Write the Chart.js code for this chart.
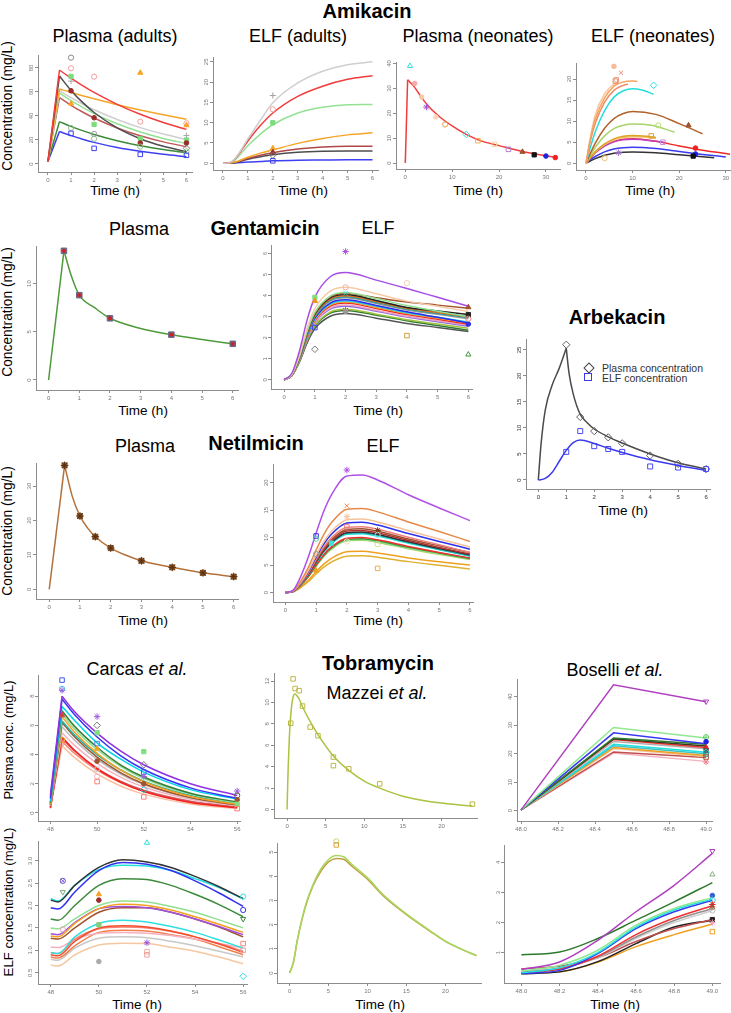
<!DOCTYPE html>
<html><head><meta charset="utf-8">
<script src="https://cdn.jsdelivr.net/npm/chart.js@4.4.1/dist/chart.umd.min.js"></script>
<style>
body{margin:0;width:731px;height:1013px;position:relative;background:#fff;font-family:"Liberation Sans",Arial,Helvetica,sans-serif;overflow:hidden}
.t{position:absolute;transform:translate(-50%,-50%);white-space:nowrap;color:#000;line-height:1.15}
.b{font-weight:bold;font-size:20px}
.h{font-size:18px}
.x{font-size:13.5px}
.v{position:absolute;transform:translate(-50%,-50%) rotate(-90deg);white-space:nowrap;color:#000;font-size:13.8px;line-height:1.15}
canvas{position:absolute}
.lg{position:absolute;font-size:10.5px;color:#333;white-space:nowrap;transform:translateY(-50%);line-height:1.15}
</style></head><body>
<div class="t b" style="left:367px;top:11px">Amikacin</div>
<div class="t h" style="left:115px;top:36px">Plasma (adults)</div>
<div class="t h" style="left:298px;top:36px">ELF (adults)</div>
<div class="t h" style="left:478px;top:36px">Plasma (neonates)</div>
<div class="t h" style="left:653px;top:36px">ELF (neonates)</div>
<div class="t b" style="left:265px;top:228px">Gentamicin</div>
<div class="t h" style="left:139px;top:229px">Plasma</div>
<div class="t h" style="left:378px;top:228px">ELF</div>
<div class="t b" style="left:617px;top:317px">Arbekacin</div>
<div class="t b" style="left:256px;top:443px">Netilmicin</div>
<div class="t h" style="left:145px;top:446px">Plasma</div>
<div class="t h" style="left:383px;top:446px">ELF</div>
<div class="t b" style="left:378px;top:663px">Tobramycin</div>
<div class="t h" style="left:137px;top:669px">Carcas <i>et al.</i></div>
<div class="t h" style="left:377px;top:693px">Mazzei <i>et al.</i></div>
<div class="t h" style="left:615px;top:670px">Boselli <i>et al.</i></div>

<div class="t x" style="left:115px;top:191px">Time (h)</div>
<div class="t x" style="left:303px;top:191px">Time (h)</div>
<div class="t x" style="left:478px;top:191px">Time (h)</div>
<div class="t x" style="left:650px;top:191px">Time (h)</div>
<div class="t x" style="left:143px;top:411px">Time (h)</div>
<div class="t x" style="left:378px;top:411px">Time (h)</div>
<div class="t x" style="left:623px;top:511px">Time (h)</div>
<div class="t x" style="left:143px;top:621px">Time (h)</div>
<div class="t x" style="left:378px;top:621px">Time (h)</div>
<div class="t x" style="left:137px;top:1005px">Time (h)</div>
<div class="t x" style="left:380px;top:1005px">Time (h)</div>
<div class="t x" style="left:615px;top:1005px">Time (h)</div>

<div class="v" style="left:8px;top:106px">Concentration (mg/L)</div>
<div class="v" style="left:8px;top:312px">Concentration (mg/L)</div>
<div class="v" style="left:8px;top:531px">Concentration (mg/L)</div>
<div class="v" style="left:9px;top:740px;font-size:13px">Plasma conc. (mg/L)</div>
<div class="v" style="left:9px;top:902px;font-size:13.2px">ELF concentration (mg/L)</div>

<div style="position:absolute;left:585px;top:364px;width:6px;height:6px;border:1px solid #444;transform:rotate(45deg)"></div>
<div class="lg" style="left:602px;top:368px">Plasma concentration</div>
<div style="position:absolute;left:584px;top:373px;width:8px;height:8px;border:1.2px solid #3a3af0;box-sizing:border-box"></div>
<div class="lg" style="left:602px;top:378px">ELF concentration</div>

<script>
// ================= DATA =================
// ---- Amikacin, plasma (adults)
const amkPaT = [0,0.5,1,1.5,2,3,4,5,6];
const amkPaY = [
 [2,78.3,71.5,65.3,59.6,49.7,41.4,34.5,28.8],
 [2,73.3,61.3,51.3,42.9,30.0,21.0,14.7,10.3],
 [2,62.5,59.6,56.9,54.3,49.4,45.0,41.0,37.3],
 [2,61.0,55.2,50.0,45.2,37.1,30.3,24.9,20.4],
 [2,59.0,52.7,47.1,42.0,33.5,26.7,21.3,17.0],
 [2,55.3,48.9,43.3,38.3,30.0,23.5,18.4,14.4],
 [2,35.3,31.3,27.8,24.6,19.4,15.2,12.0,9.4],
 [2,27.0,23.6,20.6,18.0,13.7,10.5,8.0,6.1]];
const amkPaC = ['#f23c3c','#4d4d4d','#f5a52a','#cfcfcf','#93e293','#c05a5a','#3a8a3a','#3f3ff2'];
const amkPaPx = [1,1,1,1,1,1,1,1, 2,2,2,2,2,2, 4,4,4,4,4,4, 6,6,6,6,6,6,6,6];
const amkPaPy = [88.6,79.7,73,69,61,50.3,30,25.5, 72.8,38.5,33,25,21,13, 76,35.3,21,17.5,14.5,8, 33.9,32.2,23.7,20,17.5,13,10.5,7.2];
const amkPaPc = ['#8a8a8a','#f59a9a','#7ddc7d','#a8a8a8','#9b2a2a','#f5a52a','#8fbf8f','#3f3ff2',
 '#f59a9a','#9b2a2a','#7ddc7d','#9a9a9a','#8fbf8f','#3f3ff2',
 '#f5a52a','#f59a9a','#7ddc7d','#9b2a2a','#8fbf8f','#3f3ff2',
 '#f59a9a','#f5a52a','#a8a8a8','#7ddc7d','#9b2a2a','#777777','#8fbf8f','#3f3ff2'];
const amkPaPs = ['o','o','S','+','O','T','o','s', 'o','O','S','o','o','s', 'T','o','S','O','o','s', 'o','T','+','S','O','d','o','s'];

// ---- Amikacin, ELF (adults)
const amkEaT = [0,0.25,0.5,1,1.5,2,3,4,5,6];
const amkEaY = [
 [0,0.1,1.3,6.0,10.6,14.9,19.8,22.7,24.3,25.0],
 [0,0.1,1.2,5.5,9.3,12.4,16.5,19.0,20.7,21.6],
 [0,0.1,0.9,4.3,7.2,9.5,12.4,13.8,14.4,14.5],
 [0,0.05,0.3,1.5,2.5,3.3,4.9,6.1,7.0,7.5],
 [0,0.05,0.25,1.2,2.0,2.6,3.5,4.0,4.2,4.2],
 [0,0.03,0.2,1.0,1.6,2.1,2.7,2.95,3.0,3.0],
 [0,0.01,0.08,0.3,0.45,0.6,0.75,0.8,0.85,0.85]];
const amkEaC = ['#cfcfcf','#f23c3c','#93e293','#f5a52a','#b04848','#4d4d4d','#3f3ff2'];
const amkEaPx = [2,2,2,2,2,2,2];
const amkEaPy = [16.7,13.3,10,3.7,2.7,2.0,0.6];
const amkEaPc = ['#a0a0a0','#f59a9a','#7ddc7d','#f5a52a','#9b2a2a','#777777','#3f3ff2'];
const amkEaPs = ['+','o','S','T','T','d','s'];

// ---- Amikacin, plasma (neonates)
const amkPnT = [0,0.5,1,2,3,5,7.5,10,13,16,20,25,30,32];
const amkPnY = [[0,33.5,32.5,30.4,27.6,22.7,18.3,14.9,11.5,9.0,7.0,4.6,2.9,2.3]];
const amkPnC = ['#f23c3c'];
const amkPnPx = [1,2,3.5,4.5,6.5,8.5,13,15.5,19,22,25,27.5,30,32];
const amkPnPy = [39,32,26.5,22.5,18.5,15.5,11.5,9,7.5,5.5,4.5,3.3,2.8,2.2];
const amkPnPc = ['#30dede','#f7a8a8','#f7c9a0','#a050d0','#ffd6bb','#e8a040','#30dede','#f0b050','#f2d8a0','#b080d0','#a0522d','#111111','#2020e0','#f02020'];
const amkPnPs = ['t','O','O','*','O','o','d','s','s','s','T','S','O','O'];

// ---- Amikacin, ELF (neonates)
const amkEnT = [
 [0,1,2,4,6,8,10,11],
 [0,1,2,4,6,8,9],
 [0,1,2,4,6,7],
 [0,1,2,4,6,8,10,12,14.5],
 [0,1,2,4,6,8,10,15,20,25],
 [0,1,2,4,6,8,10,14,19],
 [0,1,2,4,6,8,10,13,15],
 [0,1,2,4,6,8,10,13,15],
 [0,1,2,4,6,8,10,15,17],
 [0,1,2,4,6,8,10,15,20,25,30,32],
 [0,1,2,4,6,8,10,15,20,25,30],
 [0,1,2,4,6,8,10,15,20,27.5]];
const amkEnY = [
 [0,6,10.5,15.5,18.3,19.3,19.5,19.4],
 [0,5.5,9.5,14.5,17.3,18.5,18.8],
 [0,6.5,11.5,16.5,18.8,19.3],
 [0,4,7.5,12.5,15.7,17.2,17.7,17.4,16.4],
 [0,2.5,4.8,8.3,10.6,11.8,12.3,11.6,9.4,7.0],
 [0,2,3.8,6.5,8.2,9.0,9.3,9.0,7.4],
 [0,1.5,2.8,4.6,5.8,6.4,6.6,6.4,6.1],
 [0,1.4,2.6,4.4,5.5,6.1,6.3,6.2,5.9],
 [0,1.3,2.5,4.1,5.1,5.6,5.7,5.2,4.9],
 [0,1.3,2.5,4.2,5.2,5.7,5.8,5.2,4.1,3.1,2.3,2.0],
 [0,0.9,1.6,2.7,3.4,3.7,3.8,3.5,2.8,2.1,1.5],
 [0,0.6,1.1,1.9,2.4,2.6,2.7,2.5,2.0,1.3]];
const amkEnC = ['#f4a460','#ef8a62','#f8c8a0','#22dede','#b0622a','#a8d46a','#daa520','#f5c070','#c040c0','#f02828','#3a3af0','#333333'];
const amkEnPx = [6,7.5,6.5,6.3,14.5,22,15.5,14,16.5,23.5,23.5,23,7,4];
const amkEnPy = [23,21.5,19.8,19.5,18.5,9,9,6.5,5,3.6,2.2,1.7,2.5,1.2];
const amkEnPc = ['#f7b99a','#f08a7a','#f0a080','#e89070','#30dede','#a0522d','#b8e070','#e0a030','#c090d0','#f02020','#2020e0','#111111','#a070d0','#f5c070'];
const amkEnPs = ['O','x','s','s','d','T','o','s','s','O','O','S','*','o'];

// ---- Gentamicin, plasma
const genPT = [0,0.5,0.75,1,1.5,2,3,4,5,6];
const genPY = [[0,13.4,10.7,8.8,7.5,6.4,5.35,4.7,4.2,3.75]];
const genPC = ['#4e9a3c'];
const genPPx = [0.5,1,2,4,6, 0.5,1,2,4,6];
const genPPy = [13.4,8.8,6.4,4.7,3.75, 13.4,8.8,6.4,4.7,3.75];
const genPPc = ['#6b6585','#6b6585','#6b6585','#6b6585','#6b6585','#d02020','#d02020','#d02020','#d02020','#d02020'];
const genPPs = ['S','S','S','S','S','r','r','r','r','r'];

// ---- Gentamicin, ELF
const genET = [0,0.25,0.5,0.75,1,1.5,2,3,4,5,6];
const genEY = [
 [0,.31,1.38,2.86,3.93,4.9,5.1,4.74,4.34,3.92,3.5],
 [0,.26,1.19,2.46,3.39,4.22,4.4,4.09,3.74,3.5,3.25],
 [0,.25,1.12,2.32,3.2,3.98,4.15,3.86,3.53,3.26,3.0],
 [0,.25,1.11,2.3,3.16,3.94,4.1,3.9,3.7,3.55,3.4],
 [0,.24,1.09,2.27,3.12,3.89,4.05,3.77,3.44,3.27,3.1],
 [0,.24,1.08,2.24,3.08,3.84,4.0,3.72,3.4,3.2,3.0],
 [0,.24,1.07,2.21,3.04,3.79,3.95,3.67,3.36,3.15,2.95],
 [0,.23,1.05,2.18,3.0,3.74,3.9,3.63,3.32,3.11,2.9],
 [0,.23,1.03,2.13,2.93,3.65,3.8,3.53,3.23,2.97,2.7],
 [0,.23,1.01,2.1,2.89,3.6,3.75,3.49,3.19,2.97,2.75],
 [0,.22,1.0,2.07,2.85,3.55,3.7,3.44,3.15,2.92,2.7],
 [0,.22,.99,2.04,2.81,3.5,3.65,3.39,3.1,2.88,2.65],
 [0,.21,.96,1.99,2.73,3.41,3.55,3.3,3.02,2.81,2.6],
 [0,.21,.95,1.96,2.7,3.36,3.5,3.26,2.98,2.76,2.55],
 [0,.2,.9,1.88,2.58,3.22,3.35,3.12,2.85,2.65,2.45],
 [0,.2,.89,1.85,2.54,3.17,3.3,3.07,2.81,2.58,2.35],
 [0,.19,.85,1.76,2.43,3.02,3.15,2.93,2.68,2.49,2.3]];
const genEC = ['#a64de6','#f5cba7','#90e090','#a0522d','#222222','#e07020','#20a0a0','#999999','#2a2af0','#30d0e0','#f0a030','#f02020','#f0a0c0','#8a6ae0','#a0c040','#2e7d32','#555555'];
const genEPx = [2,2,1,1,2,2,1,1,4,6,6,6,6,2,6,4];
const genEPy = [6.1,4.4,3.92,3.75,4.12,3.3,2.48,1.45,2.1,1.2,3.45,3.1,2.65,3.25,2.9,4.6];
const genEPc = ['#b050e0','#f5b0a0','#80e080','#f09020','#40e0d0','#c03030','#4040f0','#777777','#d0a040','#3a9a3a','#a0522d','#222222','#3030e0','#999999','#f08080','#f5d0b0'];
const genEPs = ['*','o','S','T','x','*','s','d','s','t','T','S','O','O','o','o'];

// ---- Arbekacin
const arbPT = [0,0.1,0.25,0.5,0.75,1,1.1,1.25,1.5,1.75,2,2.5,3,4,5,6];
const arbPY = [0,7,13.5,18.3,21.5,25.3,20.5,16.5,12.6,11,9.8,8.3,7.1,5.0,3.3,2.1];
const arbET = [0,0.25,0.5,0.75,1,1.25,1.5,2,2.5,3,4,5,6];
const arbEY = [0,0.3,1.5,3.6,5.7,7.2,7.7,7.0,6.1,5.3,3.9,2.8,1.85];
const arbObsT = [1,1.5,2,2.5,3,4,5,6];
const arbObsP = [26,12.1,9.4,8.2,7.05,4.7,3.1,2.1];
const arbObsE = [5.4,9.4,6.5,5.96,5.4,2.6,2.4,2.1];

// ---- Netilmicin, plasma
const netPT = [0,0.5,0.75,1,1.25,1.5,2,2.5,3,4,5,6];
const netPY = [[0,36,27,21.3,17.8,15.3,12,9.9,8.3,6.4,4.8,3.7]];
const netPC = ['#b4713a'];
const netPPx = [0.5,1,1.5,2,3,4,5,6, 0.5,1,1.5,2,3,4,5,6];
const netPPy = [36,21.3,15.3,12,8.3,6.4,4.8,3.7, 36,21.3,15.3,12,8.3,6.4,4.8,3.7];
const netPPc = ['#8b5a2b','#8b5a2b','#8b5a2b','#8b5a2b','#8b5a2b','#8b5a2b','#8b5a2b','#8b5a2b','#5a3010','#5a3010','#5a3010','#5a3010','#5a3010','#5a3010','#5a3010','#5a3010'];
const netPPs = ['S','S','S','S','S','S','S','S','*','*','*','*','*','*','*','*'];

// ---- Netilmicin, ELF
const netET = [0,0.25,0.5,0.75,1,1.25,1.5,2,2.5,3,4,5,6];
const netEY = [
 [0,0.4,2.9,6.5,10.8,14.8,17.8,21.2,21.4,20.5,17.8,15.4,13.1],
 [0,.29,2.07,4.59,7.73,10.56,12.7,15.15,15.3,14.69,12.85,11.1,9.3],
 [0,.25,1.81,4.02,6.77,9.25,11.12,13.27,13.4,12.86,11.26,9.75,8.3],
 [0,.24,1.73,3.84,6.46,8.83,10.62,12.67,12.8,12.29,10.75,9.3,7.9],
 [0,.23,1.62,3.6,6.06,8.28,9.96,11.88,12.0,11.52,10.08,8.7,7.3],
 [0,.22,1.57,3.48,5.86,8.0,9.63,11.48,11.6,11.14,9.74,8.5,7.3],
 [0,.21,1.53,3.39,5.71,7.8,9.38,11.19,11.3,10.85,9.49,8.2,7.0],
 [0,.21,1.49,3.3,5.56,7.59,9.13,10.89,11.0,10.56,9.24,8.0,6.9],
 [0,.21,1.47,3.27,5.5,7.52,9.05,10.79,10.9,10.46,9.16,7.9,6.7],
 [0,.2,1.44,3.21,5.4,7.38,8.88,10.59,10.7,10.27,8.99,7.8,6.6],
 [0,.19,1.35,3.0,5.05,6.9,8.3,9.9,10.0,9.6,8.4,7.3,6.3],
 [0,.19,1.32,2.94,4.95,6.76,8.13,9.7,9.8,9.41,8.23,7.2,6.2],
 [0,.18,1.3,2.88,4.85,6.62,7.97,9.5,9.6,9.22,8.06,7.05,6.1],
 [0,.18,1.28,2.85,4.8,6.56,7.89,9.41,9.5,9.12,7.98,6.95,6.0],
 [0,.14,1.01,2.25,3.79,5.18,6.23,7.43,7.5,7.2,6.3,5.6,5.0],
 [0,.13,.9,2.01,3.38,4.62,5.56,6.63,6.7,6.43,5.63,4.95,4.3]];
const netEC = ['#b050e8','#e8894a','#f5c29a','#3030f0','#f08080','#a0522d','#b03030','#333333','#20b0b0','#20e0e0','#f03030','#3a9a3a','#90e090','#b0d050','#f0a020','#e0b030'];
const netEPx = [2,2,2,2,1,3,1.5,1,1,3,3,3,2,1];
const netEPy = [22.3,15.8,13.8,12,10.3,11.3,9,7,4,4.4,8.8,10.5,9.3,9.8];
const netEPc = ['#b050e8','#e8894a','#f5c29a','#f08080','#3030f0','#6b3a10','#40e0d0','#999999','#f0a020','#f0b040','#c8e090','#90e0e0','#f0e0c0','#60d0a0'];
const netEPs = ['*','x','*','s','s','*','S','o','T','s','o','o','o','o'];

// ---- Tobramycin, Carcas et al. (plasma)
const carPT = [48,48.5,49,50,51,52,54,56];
const carPY = [
 [1.2,8.0,7.0,5.47,4.25,3.30,2.0,1.2],
 [1.0,7.8,6.8,5.2,3.93,2.98,1.72,1.0],
 [0.8,7.3,6.4,4.8,3.7,2.8,1.6,0.95],
 [0.7,7.0,6.0,4.5,3.3,2.46,1.35,0.75],
 [0.7,6.8,5.8,4.33,3.2,2.36,1.29,0.7],
 [0.6,6.6,5.6,4.08,2.95,2.14,1.13,0.6],
 [0.6,6.3,5.4,4.0,2.96,2.18,1.2,0.65],
 [0.55,6.2,5.27,3.82,2.77,2.0,1.05,0.55],
 [0.5,5.9,5.04,3.67,2.67,1.95,1.03,0.55],
 [0.5,5.5,4.68,3.4,2.46,1.78,0.94,0.5],
 [0.35,5.2,4.35,3.03,2.11,1.47,0.72,0.35],
 [0.4,5.1,4.3,3.05,2.17,1.55,0.8,0.42],
 [0.4,4.9,4.13,2.94,2.09,1.49,0.75,0.38],
 [0.3,4.6,3.84,2.67,1.85,1.29,0.62,0.3]];
const carPC = ['#9030e0','#3535f5','#00d5e5','#3a7d3a','#90e090','#f5a020','#20b2aa','#a0522d','#bbbbbb','#f5b0c0','#f52020','#cd5c5c','#fa8072','#f8c0a0'];
const carPPx = [48.5,48.5,48.5,48.5,48.5,48.5, 50,50,50,50,50,50,50,50,50, 52,52,52,52,52,52,52, 56,56,56,56,56];
const carPPy = [9.1,8.5,8.4,6.7,5.0,4.8, 6.6,6.0,5.5,4.75,4.4,3.55,3.0,2.5,2.15, 4.2,3.3,2.8,2.5,2.0,1.6,1.1, 1.5,1.2,0.9,0.6,0.3];
const carPPc = ['#3a5af0','#40c0e0','#a060e0','#d04040','#f5a020','#fa8072',
 '#a060e0','#777777','#80e080','#5080e0','#f5a020','#a0522d','#cccccc','#f5b0c0','#fa8072',
 '#80e080','#777777','#3a5af0','#a060e0','#a0522d','#20c0d0','#fa8072',
 '#a060e0','#555555','#a0522d','#80e080','#fa8072'];
const carPPs = ['s','o','*','T','o','o', '*','d','S','s','T','O','o','o','s', 'S','d','s','*','O','d','s', '*','o','O','S','s'];

// ---- Tobramycin, Mazzei et al. (plasma)
const mazPT = [0,0.15,0.3,0.5,0.75,1,1.5,2,3,4,6,8,10,12,15,18,20,24];
const mazPY = [[0,4.0,6.8,9.0,10.4,10.8,10.4,9.6,8.2,7.0,5.0,3.65,2.65,2.0,1.25,0.8,0.6,0.32]];
const mazPC = ['#a8c440'];
const mazPPx = [0.48,0.78,1.04,1.56,2,3,4,6,6,8,12,24];
const mazPPy = [8.06,12.2,11.3,11.1,9.66,7.7,6.9,4.9,4.1,3.8,2.4,0.5];
const mazPPc = Array(12).fill('#bdb845');
const mazPPs = Array(12).fill('s');

// ---- Tobramycin, Boselli et al. (plasma)
const bosPT = [48,48.5,49];
const bosPY = [
 [0.3,44.2,38.2],[0.3,29.2,25.5],[0.3,27.3,23.5],[0.3,25.5,23.3],[0.3,25.2,22.7],[0.3,25.0,22.2],
 [0.3,24.3,21.7],[0.3,23.3,20.5],[0.3,22.8,20.0],[0.3,22.2,19.4],[0.3,21.8,19.0],[0.3,20.6,18.7],[0.3,20.2,17.3]];
const bosPC = ['#b040c0','#90e890','#3838f0','#2d7a2d','#3a3a20','#f03030','#b0b0b0','#20e0e0','#40c0c0','#f0a020','#f5c090','#c05050','#f5b0c0'];
const bosPPx = [49,49,49,49,49,49,49,49,49,49];
const bosPPy = [38.3,25.8,25.8,24.2,22.2,21,20.5,19.8,18.8,17.1];
const bosPPc = ['#b040c0','#70d070','#70d070','#2020e0','#e02020','#555555','#20d0d0','#20a0a0','#a0522d','#f08090'];
const bosPPs = ['v','+','o','O','T','S','d','o','s','*'];

// ---- Tobramycin, Carcas et al. (ELF)
const carET = [48,48.3,49,50,51,52,53,54,55,56];
const carEY = [
 [2.12,2.08,2.45,2.85,3.02,2.97,2.85,2.65,2.42,2.15],
 [1.95,1.92,2.3,2.78,2.96,2.92,2.78,2.55,2.28,1.98],
 [2.15,2.1,2.45,2.8,2.9,2.88,2.78,2.6,2.4,2.15],
 [1.7,1.67,2.0,2.45,2.6,2.58,2.45,2.25,2.02,1.75],
 [1.5,1.48,1.7,2.0,2.1,2.08,1.98,1.85,1.68,1.5],
 [1.32,1.3,1.6,1.93,2.03,2.0,1.9,1.75,1.58,1.4],
 [1.37,1.35,1.62,1.93,1.98,1.95,1.85,1.7,1.53,1.35],
 [1.27,1.25,1.5,1.85,1.95,1.95,1.85,1.7,1.52,1.3],
 [0.95,0.93,1.3,1.6,1.67,1.63,1.53,1.4,1.23,1.05],
 [0.9,0.88,1.2,1.5,1.55,1.52,1.43,1.3,1.14,0.95],
 [0.95,0.93,1.25,1.48,1.52,1.5,1.42,1.3,1.15,0.98],
 [1.07,1.06,1.25,1.38,1.4,1.38,1.33,1.25,1.15,1.05],
 [0.85,0.83,1.1,1.4,1.45,1.43,1.35,1.25,1.08,0.9],
 [0.8,0.78,1.05,1.27,1.3,1.28,1.2,1.1,0.98,0.85],
 [0.67,0.65,0.9,1.12,1.16,1.15,1.07,0.98,0.85,0.7]];
const carEC = ['#333333','#3030f0','#20e0e0','#3a8a3a','#90e090','#f5a020','#a050e0','#a0522d','#30e0e0','#f05030','#fa8072','#f5b0c0','#f08050','#c8c8c8','#f5c8a0'];
const carEPx = [48.5,48.5,48.5,48.5,50,50,50,50,52,52,52,52,56,56,56,56,56,56];
const carEPy = [2.55,2.55,2.3,1.47,2.25,2.12,1.57,0.75,3.4,1.17,0.97,0.9,2.2,1.9,1.7,1.15,1.0,0.42];
const carEPc = ['#5060c0','#a050e0','#7ab07a','#f0a0c0','#f5a020','#9b2a2a','#80d080','#aaaaaa','#30e0e0','#a050e0','#f0b0a0','#f0a0a0','#30e0e0','#3030f0','#3a8a3a','#fa8072','#f0a0a0','#30e0e0'];
const carEPs = ['o','x','v','o','T','O','S','O','t','*','s','s','o','o','v','s','s','d'];

// ---- Tobramycin, Mazzei et al. (ELF)
const mazET = [0,0.5,1,2,3,4,5,6,7,8,10,12,15,18,20,22,24];
const mazEY = [
 [0,0.45,1.37,2.75,3.65,4.3,4.7,4.86,4.8,4.5,3.95,3.25,2.45,1.76,1.32,1.0,0.72],
 [0,0.45,1.35,2.7,3.6,4.2,4.6,4.74,4.7,4.42,3.88,3.2,2.42,1.74,1.31,1.0,0.72]];
const mazEC = ['#a8d860','#c0a040'];
const mazEPx = [6,6];
const mazEPy = [5.45,5.3];
const mazEPc = ['#b8e070','#e0a040'];
const mazEPs = ['o','s'];

// ---- Tobramycin, Boselli et al. (ELF)
const bosET = [48,48.2,48.4,48.6,48.8,49];
const bosEY = [
 [0.44,0.69,1.41,2.36,3.24,4.3],
 [0.93,1.02,1.47,2.08,2.69,3.33],
 [0.38,0.58,1.08,1.91,2.47,2.83],
 [0.33,0.5,1.0,1.85,2.42,2.78],
 [0.3,0.41,0.97,1.8,2.36,2.74],
 [0.33,0.45,0.88,1.6,2.15,2.56],
 [0.36,0.47,0.85,1.52,2.07,2.47],
 [0.42,0.5,0.83,1.47,2.0,2.4],
 [0.46,0.55,0.83,1.37,1.8,2.1],
 [0.3,0.36,0.7,1.3,1.85,2.08],
 [0.32,0.36,0.68,1.2,1.6,1.95]];
const bosEC = ['#b040c0','#2d7a2d','#90e890','#20e0e0','#3838f0','#f03030','#909090','#d0d0d0','#c05050','#222222','#f0a020'];
const bosEPx = [49,49,49,49,49,49,49,49,49,49];
const bosEPy = [4.38,3.6,2.9,2.75,2.6,2.5,2.4,2.1,2.0,1.7];
const bosEPc = ['#b040c0','#80b080','#3060d0','#20d0e0','#e02020','#a0522d','#bbbbbb','#222222','#f0a0b0','#f0a020'];
const bosEPs = ['v','t','O','d','*','T','o','S','*','s'];

// ---- tick values / labels
const ticks0to6 = [0,1,2,3,4,5,6];
const ticks48to56 = [48,50,52,54,56];
const ticks48dec = [48.0,48.2,48.4,48.6,48.8,49.0];
const labels48dec = ['48.0','48.2','48.4','48.6','48.8','49.0'];
const ticksELFcarcas = [0.5,1.0,1.5,2.0,2.5,3.0];
const labelsELFcarcas = ['0.5','1.0','1.5','2.0','2.5','3.0'];

// ================= RENDER =================
Chart.defaults.font.family = '"Liberation Sans", Arial, sans-serif';
Chart.defaults.animation = false;
const AX = '#8c8c8c', TK = '#777777';
const STY = {
 o:{s:'circle',f:0,rad:2.6}, O:{s:'circle',f:1,rad:2.3}, r:{s:'circle',f:1,rad:1.5},
 s:{s:'rect',f:0,rad:3.2}, S:{s:'rect',f:1,rad:3.0},
 t:{s:'triangle',f:0,rad:3.0}, T:{s:'triangle',f:1,rad:3.0},
 v:{s:'triangle',f:0,rot:180,rad:3.0}, d:{s:'rectRot',f:0,rad:3.3},
 '+':{s:'cross',f:0,rad:3}, x:{s:'crossRot',f:0,rad:3}, '*':{s:'star',f:0,rad:3.2}
};

function panel(o){
  const ml=16, mt=6, mr=8, mb=14;
  const [L,T,R,B]=o.box;
  const w=R-L+ml+mr, h=B-T+mt+mb;
  const cv=document.createElement('canvas');
  cv.width=w; cv.height=h;
  Object.assign(cv.style,{left:(L-ml)+'px',top:(T-mt)+'px',width:w+'px',height:h+'px'});
  document.body.appendChild(cv);
  const ds=[];
  const lw=o.lw||1.5;
  o.curves.forEach((ys,k)=>{
    const ts=Array.isArray(o.t[0])?o.t[k]:o.t;
    const pts=ts.map((x,i)=>({x:x,y:ys[i]}));
    const base={type:'line',borderColor:o.colors[k],borderWidth:lw,pointRadius:0,fill:false,order:1};
    if(o.split!=null){
      ds.push(Object.assign({},base,{data:pts.slice(0,o.split+1),tension:0,cubicInterpolationMode:o.riseCurve?'monotone':'default'}));
      ds.push(Object.assign({},base,{data:pts.slice(o.split),cubicInterpolationMode:'monotone'}));
    } else if(o.straight){
      ds.push(Object.assign({},base,{data:pts,tension:0}));
    } else {
      ds.push(Object.assign({},base,{data:pts,cubicInterpolationMode:'monotone'}));
    }
  });
  if(o.px){
    const sc=o.psz||1;
    ds.push({type:'line',showLine:false,order:0,clip:false,
      data:o.px.map((x,i)=>({x:x,y:o.py[i]})),
      pointStyle:o.ps.map(s=>STY[s].s),
      pointRotation:o.ps.map(s=>STY[s].rot||0),
      pointRadius:o.ps.map(s=>STY[s].rad*(s==='r'?1:sc)),
      pointBorderColor:o.pc,
      pointBackgroundColor:o.ps.map((s,i)=>STY[s].f?o.pc[i]:'rgba(0,0,0,0)'),
      pointBorderWidth:1});
  }
  const axis=(vals,labels,isY,range,size)=>({
    type:'linear',min:range[0],max:range[1],
    afterBuildTicks:a=>{a.ticks=vals.map(v=>({value:v}));},
    afterFit:a=>{ if(isY) a.width=size; else a.height=size; },
    grid:{display:true,drawOnChartArea:false,drawTicks:true,tickLength:3,color:AX,lineWidth:1},
    border:{display:true,color:AX,width:1},
    ticks:{autoSkip:false,color:TK,font:{size:6},
      padding:isY?0.5:1.5,
      minRotation:isY?90:0,maxRotation:isY?90:0,
      crossAlign:isY?'center':'near',
      callback:(v,i)=>labels?labels[i]:String(vals[i])}
  });
  new Chart(cv,{type:'line',data:{datasets:ds},options:{
    responsive:false,animation:false,devicePixelRatio:1,events:[],
    layout:{padding:{left:0,top:mt,right:mr,bottom:0}},
    plugins:{legend:{display:false},tooltip:{enabled:false},title:{display:false}},
    scales:{
      x:axis(o.xt,o.xl,false,o.xr,mb),
      y:axis(o.yt,o.yl,true,o.yr,ml)
    }
  }});
}

// Amikacin
panel({box:[38,55,192,172],xr:[-0.43,6.24],yr:[-6.7,90.8],xt:ticks0to6,yt:[0,20,40,60,80],
  t:amkPaT,curves:amkPaY,colors:amkPaC,split:1,px:amkPaPx,py:amkPaPy,pc:amkPaPc,ps:amkPaPs});
panel({box:[213,57,378,170],xr:[-0.40,6.22],yr:[-1.66,26.2],xt:ticks0to6,yt:[0,5,10,15,20,25],
  t:amkEaT,curves:amkEaY,colors:amkEaC,px:amkEaPx,py:amkEaPy,pc:amkEaPc,ps:amkEaPs});
panel({box:[396,62,560,169],xr:[-1.98,33.0],yr:[-2.4,40.6],xt:[0,10,20,30],yt:[0,10,20,30,40],
  t:amkPnT,curves:amkPnY,colors:amkPnC,split:1,px:amkPnPx,py:amkPnPy,pc:amkPnPc,ps:amkPnPs});
panel({box:[576,63,730,170],xr:[-2.14,30.9],yr:[-1.6,23.8],xt:[0,10,20,30],yt:[0,5,10,15,20],
  t:amkEnT,curves:amkEnY,colors:amkEnC,px:amkEnPx,py:amkEnPy,pc:amkEnPc,ps:amkEnPs});
// Gentamicin
panel({box:[36,246,238,390],xr:[-0.41,6.17],yr:[-1.04,13.9],xt:ticks0to6,yt:[0,5,10],
  t:genPT,curves:genPY,colors:genPC,split:1,px:genPPx,py:genPPy,pc:genPPc,ps:genPPs,psz:1.3});
panel({box:[271,245,472,389],xr:[-0.43,6.12],yr:[-0.44,6.41],xt:ticks0to6,yt:[0,1,2,3,4,5,6],
  t:genET,curves:genEY,colors:genEC,px:genEPx,py:genEPy,pc:genEPc,ps:genEPs});
// Arbekacin
panel({box:[526,339,710,489],xr:[-0.44,6.14],yr:[-1.73,27.1],xt:ticks0to6,yt:[0,5,10,15,20,25],
  t:arbPT,curves:[arbPY],colors:['#4a4a4a'],split:5,riseCurve:true,
  px:arbObsT.concat(arbObsT),py:arbObsP.concat(arbObsE),
  pc:arbObsT.map(()=>'#606060').concat(arbObsT.map(()=>'#4a4af5')),
  ps:arbObsT.map(()=>'d').concat(arbObsT.map(()=>'s')),psz:1.1});
panel({box:[526,339,710,489],xr:[-0.44,6.14],yr:[-1.73,27.1],xt:ticks0to6,yt:[0,5,10,15,20,25],
  t:arbET,curves:[arbEY],colors:['#3a3af0']});
// Netilmicin
panel({box:[36,463,238,599],xr:[-0.43,6.14],yr:[-2.79,36.7],xt:ticks0to6,yt:[0,10,20,30],
  t:netPT,curves:netPY,colors:netPC,split:1,px:netPPx,py:netPPy,pc:netPPc,ps:netPPs,psz:1.2});
panel({box:[273,464,473,602],xr:[-0.40,6.1],yr:[-1.72,23.4],xt:ticks0to6,yt:[0,5,10,15,20],
  t:netET,curves:netEY,colors:netEC,px:netEPx,py:netEPy,pc:netEPc,ps:netEPs});
// Tobramycin
panel({box:[38,675,240,821],xr:[47.47,56.12],yr:[-0.55,9.45],xt:ticks48to56,yt:[0,2,4,6,8],
  t:carPT,curves:carPY,colors:carPC,split:1,px:carPPx,py:carPPy,pc:carPPc,ps:carPPs});
panel({box:[274,673,477,818],xr:[-1.69,24.6],yr:[-0.79,12.75],xt:[0,5,10,15,20],yt:[0,2,4,6,8,10,12],
  t:mazPT,curves:mazPY,colors:mazPC,px:mazPPx,py:mazPPy,pc:mazPPc,ps:mazPPs});
panel({box:[517,679,712,821],xr:[47.978,49.032],yr:[-3.62,46.2],xt:ticks48dec,xl:labels48dec,yt:[0,10,20,30,40],
  t:bosPT,curves:bosPY,colors:bosPC,straight:true,px:bosPPx,py:bosPPy,pc:bosPPc,ps:bosPPs});
panel({box:[38,841,247,984],xr:[47.47,56.16],yr:[0.248,3.44],xt:ticks48to56,yt:ticksELFcarcas,yl:labelsELFcarcas,
  t:carET,curves:carEY,colors:carEC,px:carEPx,py:carEPy,pc:carEPc,ps:carEPs});
panel({box:[277,843,481,983],xr:[-1.61,24.57],yr:[-0.41,5.38],xt:[0,5,10,15,20],yt:[0,1,2,3,4,5],
  t:mazET,curves:mazEY,colors:mazEC,px:mazEPx,py:mazEPy,pc:mazEPc,ps:mazEPs});
panel({box:[504,845,720,983],xr:[47.909,49.04],yr:[-0.01,4.58],xt:ticks48dec,xl:labels48dec,yt:[1,2,3,4],
  t:bosET,curves:bosEY,colors:bosEC,px:bosEPx,py:bosEPy,pc:bosEPc,ps:bosEPs});
</script>
</body></html>
